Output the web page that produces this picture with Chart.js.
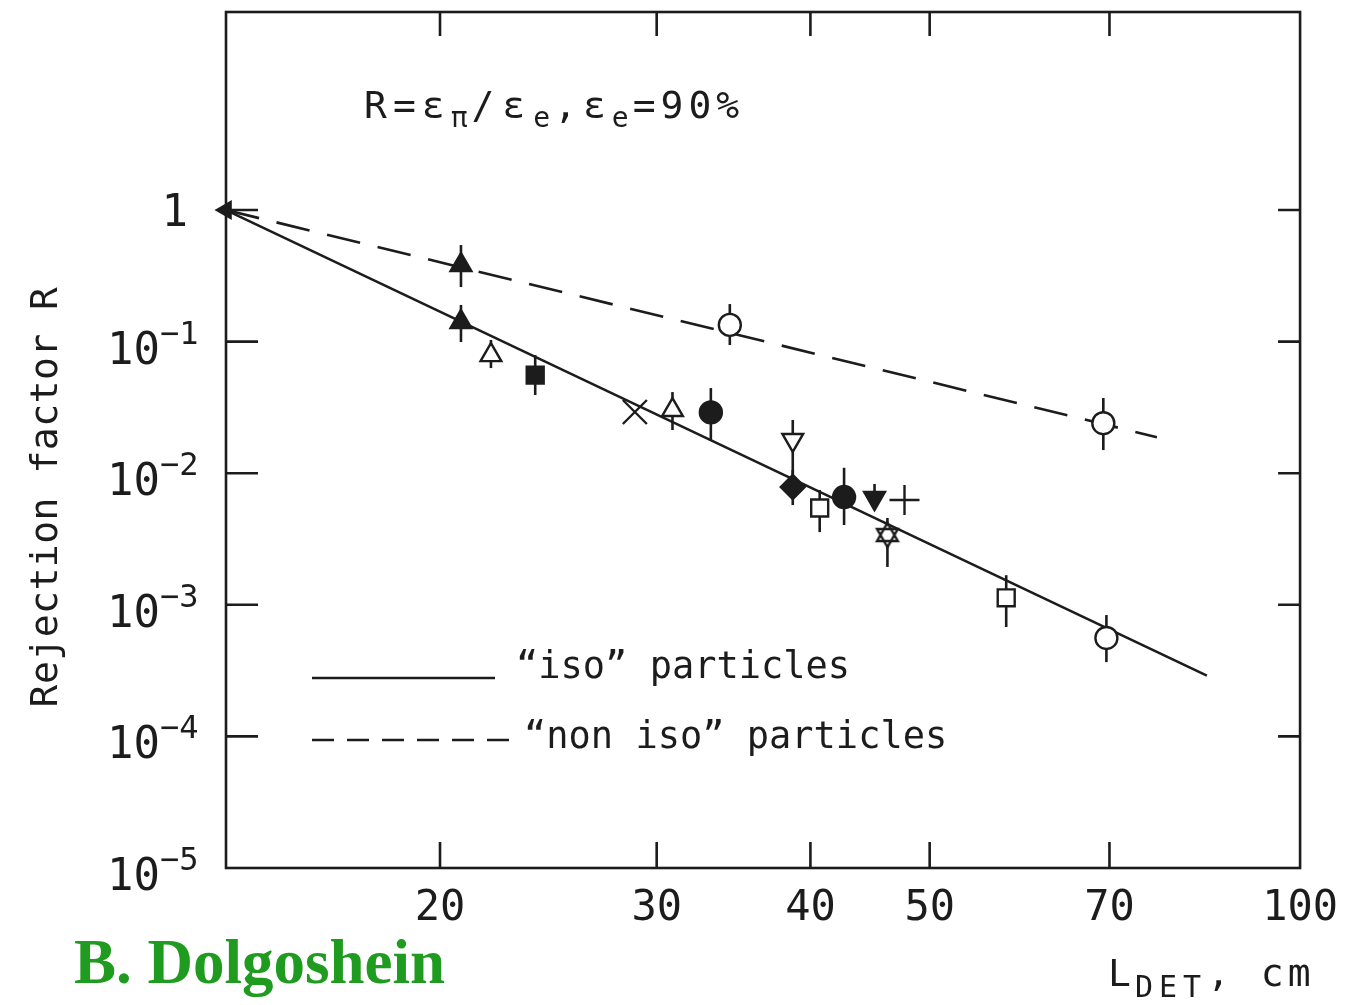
<!DOCTYPE html>
<html>
<head>
<meta charset="utf-8">
<script src="https://cdn.jsdelivr.net/npm/chart.js@4.4.1/dist/chart.umd.min.js"></script>
<style>
  html, body { margin: 0; padding: 0; background: #fff; }
  canvas { display: block; }
</style>
</head>
<body>
<canvas id="chart" width="1354" height="1005"></canvas>
<script>
// detector length L_DET (cm) and rejection factor R
var isoLength    = [20.8, 22.0, 23.9, 28.8, 30.9, 33.2, 38.7, 38.7, 40.7, 42.6, 45.1, 47.7, 46.2, 57.7, 69.6];
var isoRejection = [0.141, 0.079, 0.0557, 0.0292, 0.0302, 0.029, 0.0179, 0.00786, 0.00544, 0.00659, 0.00648, 0.00626, 0.00339, 0.00113, 0.00056];
var isoErrHigh   = [0.190, 0.103, 0.079, null, 0.0414, 0.0444, 0.0254, 0.0106, 0.00745, 0.0110, 0.00828, null, 0.00457, 0.00168, 0.000836];
var isoErrLow    = [0.0993, 0.063, 0.0393, null, 0.0213, 0.0179, 0.00969, 0.00573, 0.00357, 0.00404, 0.00525, null, 0.00194, 0.000678, 0.000367];

var nonIsoLength    = [20.8, 34.4, 69.2];
var nonIsoRejection = [0.382, 0.134, 0.024];
var nonIsoErrHigh   = [0.542, 0.193, 0.0373];
var nonIsoErrLow    = [0.26, 0.0942, 0.015];

// the two hand drawn fit lines
var isoFitLength       = [13.4, 84];
var isoFitRejection    = [1, 0.00029];
var nonIsoFitLength    = [13.4, 76.5];
var nonIsoFitRejection = [1, 0.0188];

var xTicks = [20, 30, 40, 50, 70, 100];
var yTicks = [1, 1e-1, 1e-2, 1e-3, 1e-4, 1e-5];
var yExp   = ['', '\u22121', '\u22122', '\u22123', '\u22124', '\u22125'];

var ink = '#1c1c1c';
var mono = '"DejaVu Sans Mono", monospace';

// marker look, one entry per iso point
function hexagram(r) {
    var s = Math.ceil(2 * r + 6);
    var c = document.createElement('canvas');
    c.width = s; c.height = s;
    var g = c.getContext('2d');
    g.translate(s / 2, s / 2);
    g.lineWidth = 2.4;
    g.strokeStyle = ink;
    g.fillStyle = '#fff';
    var tri = function (a) {
        g.beginPath();
        for (var k = 0; k < 3; k++) {
            var t = a + k * 2 * Math.PI / 3;
            g.lineTo(Math.sin(t) * r, -Math.cos(t) * r);
        }
        g.closePath();
    };
    tri(0); g.fill(); tri(Math.PI); g.fill();
    tri(0); g.stroke(); tri(Math.PI); g.stroke();
    return c;
}
var isoStyle  = ['triangle', 'triangle', 'rect', 'crossRot', 'triangle', 'circle', 'triangle', 'rectRot', 'rect', 'circle', 'triangle', 'cross', hexagram(12), 'rect', 'circle'];
var isoFill   = [1, 0, 1, 0, 0, 1, 0, 1, 0, 1, 1, 0, 0, 0, 0];
var isoRot    = [0, 0, 0, 0, 0, 0, 180, 0, 0, 0, 180, 0, 0, 0, 0];
var isoRadius = [12, 12, 12, 17, 12, 11, 12, 12, 12, 11, 12, 15, 12, 12, 11];
var nonIsoStyle = ['triangle', 'circle', 'circle'];
var nonIsoFill  = [1, 0, 0];

function pts(xs, ys) {
    return xs.map(function (x, i) { return { x: x, y: ys[i] }; });
}

function drawPieces(ctx, x, y, pieces) {
    pieces.forEach(function (p) {
        ctx.font = p.size + 'px ' + mono;
        ctx.letterSpacing = (p.sp || 0) + 'px';
        ctx.fillText(p.t, x, y + (p.dy || 0));
        x += ctx.measureText(p.t).width;
    });
    ctx.letterSpacing = '0px';
}

var decorations = {
    id: 'decorations',
    beforeDatasetsDraw: function (chart) {
        var ctx = chart.ctx, xs = chart.scales.x, ys = chart.scales.y;
        ctx.save();
        ctx.strokeStyle = ink;
        ctx.lineWidth = 2.6;
        var bars = function (len, hi, lo) {
            len.forEach(function (l, i) {
                if (hi[i] == null) return;
                var px = xs.getPixelForValue(l);
                ctx.beginPath();
                ctx.moveTo(px, ys.getPixelForValue(hi[i]));
                ctx.lineTo(px, ys.getPixelForValue(lo[i]));
                ctx.stroke();
            });
        };
        bars(isoLength, isoErrHigh, isoErrLow);
        bars(nonIsoLength, nonIsoErrHigh, nonIsoErrLow);
        ctx.restore();
    },
    afterDraw: function (chart) {
        var ctx = chart.ctx, a = chart.chartArea, xs = chart.scales.x, ys = chart.scales.y;
        ctx.save();
        ctx.strokeStyle = ink;
        ctx.fillStyle = ink;
        ctx.lineWidth = 2.6;
        ctx.strokeRect(a.left, a.top, a.right - a.left, a.bottom - a.top);

        // inward ticks on all four sides
        ctx.beginPath();
        xTicks.forEach(function (v) {
            var px = xs.getPixelForValue(v);
            if (px >= a.right - 2) return;
            ctx.moveTo(px, a.bottom); ctx.lineTo(px, a.bottom - 26);
            ctx.moveTo(px, a.top); ctx.lineTo(px, a.top + 24);
        });
        yTicks.forEach(function (v) {
            var py = ys.getPixelForValue(v);
            if (py >= a.bottom - 2) return;
            ctx.moveTo(a.left, py); ctx.lineTo(a.left + 32, py);
            ctx.moveTo(a.right, py); ctx.lineTo(a.right - 22, py);
        });
        ctx.stroke();

        // y tick labels with exponents
        ctx.textBaseline = 'alphabetic';
        yTicks.forEach(function (v, i) {
            var py = ys.getPixelForValue(v);
            if (!yExp[i]) {
                ctx.textAlign = 'right';
                ctx.font = '44px ' + mono;
                ctx.fillText('1', 188, py + 16);
                return;
            }
            ctx.textAlign = 'right';
            ctx.font = '44px ' + mono;
            ctx.fillText('10', 160, py + 22);
            ctx.textAlign = 'left';
            ctx.font = '32px ' + mono;
            ctx.fillText(yExp[i], 160, py + 2);
        });

        // axis titles
        ctx.save();
        ctx.translate(57, 497);
        ctx.rotate(-Math.PI / 2);
        ctx.textAlign = 'center';
        ctx.font = '38px ' + mono;
        ctx.letterSpacing = '0.5px';
        ctx.fillText('Rejection factor R', 0, 0);
        ctx.restore();

        ctx.textAlign = 'left';
        drawPieces(ctx, 1108, 986, [
            { t: 'L', size: 38, sp: 4 },
            { t: 'DET', size: 30, dy: 11, sp: 6 },
            { t: ', cm', size: 38, sp: 4 }
        ]);

        // annotation
        drawPieces(ctx, 364, 118, [
            { t: 'R=\u03b5', size: 38, sp: 6 },
            { t: '\u03c0', size: 28, dy: 9, sp: 4 },
            { t: '/\u03b5', size: 38, sp: 8 },
            { t: 'e', size: 28, dy: 9, sp: 4 },
            { t: ',\u03b5', size: 38, sp: 6 },
            { t: 'e', size: 28, dy: 9, sp: 4 },
            { t: '=90%', size: 38, sp: 5 }
        ]);

        // legend inside the frame
        ctx.lineWidth = 2.6;
        ctx.beginPath();
        ctx.moveTo(312, 678); ctx.lineTo(495, 678);
        ctx.stroke();
        ctx.setLineDash([22, 13]);
        ctx.beginPath();
        ctx.moveTo(312, 740); ctx.lineTo(515, 740);
        ctx.stroke();
        ctx.setLineDash([]);
        ctx.font = '37px ' + mono;
        ctx.textBaseline = 'middle';
        ctx.fillText('\u201ciso\u201d particles', 516, 668);
        ctx.fillText('\u201cnon iso\u201d particles', 524, 738);

        // credit
        ctx.textBaseline = 'alphabetic';
        ctx.fillStyle = '#1f9b1f';
        ctx.font = 'bold 63px "Liberation Serif", serif';
        ctx.fillText('B. Dolgoshein', 74, 983);
        ctx.restore();
    }
};

new Chart(document.getElementById('chart'), {
    type: 'scatter',
    data: {
        datasets: [
            {
                label: 'iso fit',
                data: pts(isoFitLength, isoFitRejection),
                showLine: true,
                borderColor: ink,
                borderWidth: 2.6,
                pointRadius: 0,
                order: 3
            },
            {
                label: 'non iso fit',
                data: pts(nonIsoFitLength, nonIsoFitRejection),
                showLine: true,
                borderColor: ink,
                borderWidth: 2.6,
                borderDash: [34, 18],
                pointStyle: 'triangle',
                pointRotation: 270,
                pointRadius: [9, 0],
                pointBackgroundColor: ink,
                pointBorderColor: ink,
                clip: false,
                order: 3
            },
            {
                label: 'iso',
                data: pts(isoLength, isoRejection),
                pointStyle: isoStyle,
                pointRotation: isoRot,
                pointRadius: isoRadius,
                pointBorderWidth: 2.4,
                pointBorderColor: ink,
                pointBackgroundColor: isoFill.map(function (f) { return f ? ink : '#fff'; }),
                order: 1
            },
            {
                label: 'non iso',
                data: pts(nonIsoLength, nonIsoRejection),
                pointStyle: nonIsoStyle,
                pointRadius: [12, 11, 11],
                pointBorderWidth: 2.4,
                pointBorderColor: ink,
                pointBackgroundColor: nonIsoFill.map(function (f) { return f ? ink : '#fff'; }),
                order: 1
            }
        ]
    },
    options: {
        responsive: false,
        animation: false,
        layout: { autoPadding: false, padding: { top: 12, right: 44, left: 0, bottom: 0 } },
        plugins: {
            legend: { display: false },
            tooltip: { enabled: false }
        },
        elements: { point: { hoverRadius: 0 } },
        scales: {
            x: {
                type: 'logarithmic',
                min: 13.4,
                max: 100,
                grid: { display: false, drawTicks: false },
                border: { display: false },
                afterBuildTicks: function (s) { s.ticks = xTicks.map(function (v) { return { value: v }; }); },
                afterFit: function (s) { s.height = 137; },
                ticks: {
                    color: ink,
                    padding: 16,
                    maxRotation: 0,
                    autoSkip: false,
                    font: { family: mono, size: 42 },
                    callback: function (v) { return String(v); }
                }
            },
            y: {
                type: 'logarithmic',
                min: 1e-5,
                max: 32,
                grid: { display: false, drawTicks: false },
                border: { display: false },
                afterBuildTicks: function (s) { s.ticks = yTicks.map(function (v) { return { value: v }; }); },
                afterFit: function (s) { s.width = 226; },
                ticks: { display: false }
            }
        }
    },
    plugins: [decorations]
});
</script>
</body>
</html>
